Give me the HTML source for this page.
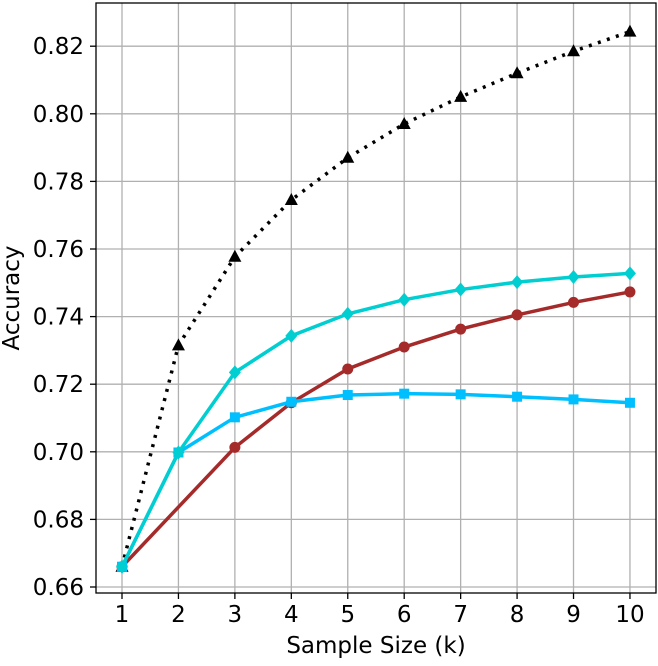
<!DOCTYPE html>
<html><head><meta charset="utf-8"><style>
body{margin:0;background:#fff}
svg text{font-family:"DejaVu Sans","Liberation Sans",sans-serif;fill:#000}
</style></head><body>
<svg id="s" width="658" height="661" xmlns="http://www.w3.org/2000/svg"></svg>
<script>
const s=document.getElementById('s');
const X=v=>122+(v-1)*56.44, Y=v=>587-(v-0.66)/0.02*67.6;
let h='';
for(let i=1;i<=10;i++){h+=`<line x1="${X(i)}" y1="3" x2="${X(i)}" y2="593" stroke="#b0b0b0" stroke-width="1.3"/>`;
h+=`<line x1="${X(i)}" y1="593" x2="${X(i)}" y2="599" stroke="#000" stroke-width="1.3"/><text x="${X(i)}" y="622" font-size="23" text-anchor="middle">${i}</text>`;}
for(let k=0;k<=8;k++){const v=0.66+k*0.02,y=Y(v);
h+=`<line x1="96" y1="${y}" x2="656" y2="${y}" stroke="#b0b0b0" stroke-width="1.3"/>`;
h+=`<line x1="90" y1="${y}" x2="96" y2="${y}" stroke="#000" stroke-width="1.3"/><text x="84" y="${y+8}" font-size="23" text-anchor="end">${v.toFixed(2)}</text>`;}
const ser=[
{c:'#000',d:[0.666,0.7315,0.7577,0.7745,0.787,0.797,0.805,0.812,0.8185,0.8243],m:'t',dash:'3,6.5'},
{c:'#a52a2a',d:[0.666,null,0.7013,0.7145,0.7245,0.731,0.7363,0.7405,0.7442,0.7473],m:'o'},
{c:'#00bfff',d:[0.666,0.6998,0.7102,0.7148,0.7168,0.7172,0.717,0.7163,0.7155,0.7145],m:'s'},
{c:'#00ced1',d:[0.666,0.6998,0.7235,0.7343,0.7408,0.745,0.748,0.7502,0.7517,0.7528],m:'d'}];
for(const o of ser){let p=[];o.d.forEach((v,i)=>{if(v!=null)p.push(X(i+1)+','+Y(v))});
h+=`<polyline points="${p.join(' ')}" fill="none" stroke="${o.c}" stroke-width="3.5" ${o.dash?`stroke-dasharray="${o.dash}"`:''}/>`;
o.d.forEach((v,i)=>{if(v==null)return;const x=X(i+1),y=Y(v);
if(o.m=='t')h+=`<polygon points="${x},${y-7} ${x-6.5},${y+5} ${x+6.5},${y+5}" fill="#000"/>`;
if(o.m=='o')h+=`<circle cx="${x}" cy="${y}" r="5.5" fill="${o.c}"/>`;
if(o.m=='s')h+=`<rect x="${x-5}" y="${y-5}" width="10" height="10" fill="${o.c}"/>`;
if(o.m=='d')h+=`<polygon points="${x},${y-7} ${x+6},${y} ${x},${y+7} ${x-6},${y}" fill="${o.c}"/>`;});}
h+=`<rect x="96" y="3" width="560" height="590" fill="none" stroke="#000" stroke-width="1.3"/>`;
h+=`<text x="376" y="653" font-size="23" text-anchor="middle">Sample Size (k)</text>`;
h+=`<text transform="translate(19,298) rotate(-90)" font-size="23" text-anchor="middle">Accuracy</text>`;
s.innerHTML=h;
</script>
</body></html>
